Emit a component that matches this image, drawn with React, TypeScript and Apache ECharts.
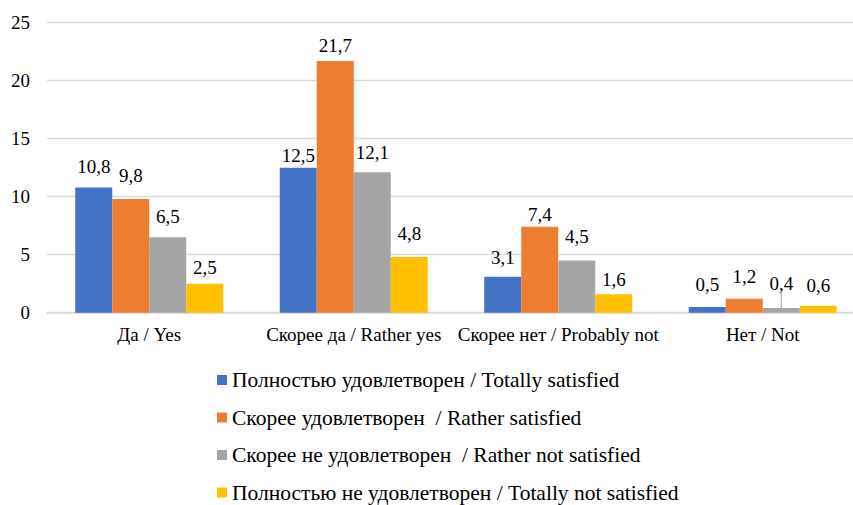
import React, { useEffect, useRef } from "react";
import * as echarts from "echarts";

const categories = ["Да / Yes", "Скорее да / Rather yes", "Скорее нет / Probably not", "Нет / Not"];
const seriesNames = [
  "Полностью удовлетворен / Totally satisfied",
  "Скорее удовлетворен  / Rather satisfied",
  "Скорее не удовлетворен  / Rather not satisfied",
  "Полностью не удовлетворен / Totally not satisfied",
];
const totallySatisfied = [10.8, 12.5, 3.1, 0.5];
const ratherSatisfied = [9.8, 21.7, 7.4, 1.2];
const ratherNotSatisfied = [6.5, 12.1, 4.5, 0.4];
const totallyNotSatisfied = [2.5, 4.8, 1.6, 0.6];
const yTicks = [0, 5, 10, 15, 20, 25];

// label placement (distance of label centre above bar top, horizontal nudge)
const labelRise = [
  [21, 12, 19, 22],
  [24, 15, 12, 22],
  [21, 20, 24, 12],
  [16, 24, 15, 20],
];
const labelShift = [
  [0, 0, 0, -2],
  [3, 0, -1, -2],
  [0, -2, -6, 2],
  [0, 0, 3, 0],
];
const colors = ["#4472C4", "#ED7D31", "#A5A5A5", "#FFC000"];
const FONT = "Times New Roman, Liberation Serif, DejaVu Serif, serif";
const AXIS_SIZE = 19;
const LEGEND_SIZE = 21.5;

export default function App() {
  const ref = useRef<HTMLDivElement>(null);
  useEffect(() => {
    document.body.style.margin = "0";
    document.body.style.overflow = "hidden";
    const chart = echarts.init(ref.current!, undefined, { renderer: "svg" });
    const values = [totallySatisfied, ratherSatisfied, ratherNotSatisfied, totallyNotSatisfied];
    const fmt = (v: number) => v.toFixed(1).replace(".", ",");
    chart.setOption({
      animation: false,
      color: colors,
      textStyle: { fontFamily: FONT },
      grid: { left: 47, top: 22.7, width: 818, height: 290, containLabel: false },
      xAxis: {
        type: "category",
        data: categories,
        axisTick: { show: false },
        axisLine: { lineStyle: { color: "#d9d9d9", width: 1.5 } },
        axisLabel: { color: "#000", fontFamily: FONT, fontSize: AXIS_SIZE, margin: 12, interval: 0 },
      },
      yAxis: {
        type: "value",
        min: yTicks[0],
        max: yTicks[yTicks.length - 1],
        interval: 5,
        axisLine: { show: false },
        axisTick: { show: false },
        splitLine: { lineStyle: { color: "#d9d9d9", width: 1.3 } },
        axisLabel: { color: "#000", fontFamily: FONT, fontSize: AXIS_SIZE, margin: 17 },
      },
      legend: {
        orient: "vertical",
        left: 217,
        top: 369,
        padding: 0,
        itemWidth: 10,
        itemHeight: 10,
        itemGap: 15.5,
        icon: "rect",
        textStyle: { color: "#000", fontFamily: FONT, fontSize: LEGEND_SIZE, lineHeight: 22 },
        data: seriesNames,
      },
      series: values.map((arr, s) => ({
        name: seriesNames[s],
        type: "bar",
        barWidth: 37,
        barGap: "0%",
        data: arr.map((v, i) => ({
          value: v,
          label: {
            distance: labelRise[s][i] - 9.5,
            offset: [labelShift[s][i], 0],
          },
          labelLine: { show: s === 2 && i === 3, lineStyle: { color: "#a5a5a5", width: 1 } },
        })),
        labelLayout: (p: any) => (s === 2 && p.dataIndex === 3 ? { dy: -13 } : {}),
        label: {
          show: true,
          position: "top",
          color: "#000",
          fontFamily: FONT,
          fontSize: AXIS_SIZE,
          lineHeight: 19,
          formatter: (p: any) => fmt(p.value),
        },
      })),
    });
    return () => chart.dispose();
  }, []);
  return (
    <div style={{ width: 853, height: 505, overflow: "hidden", position: "relative" }}>
      <div ref={ref} style={{ width: 880, height: 505 }} />
    </div>
  );
}
